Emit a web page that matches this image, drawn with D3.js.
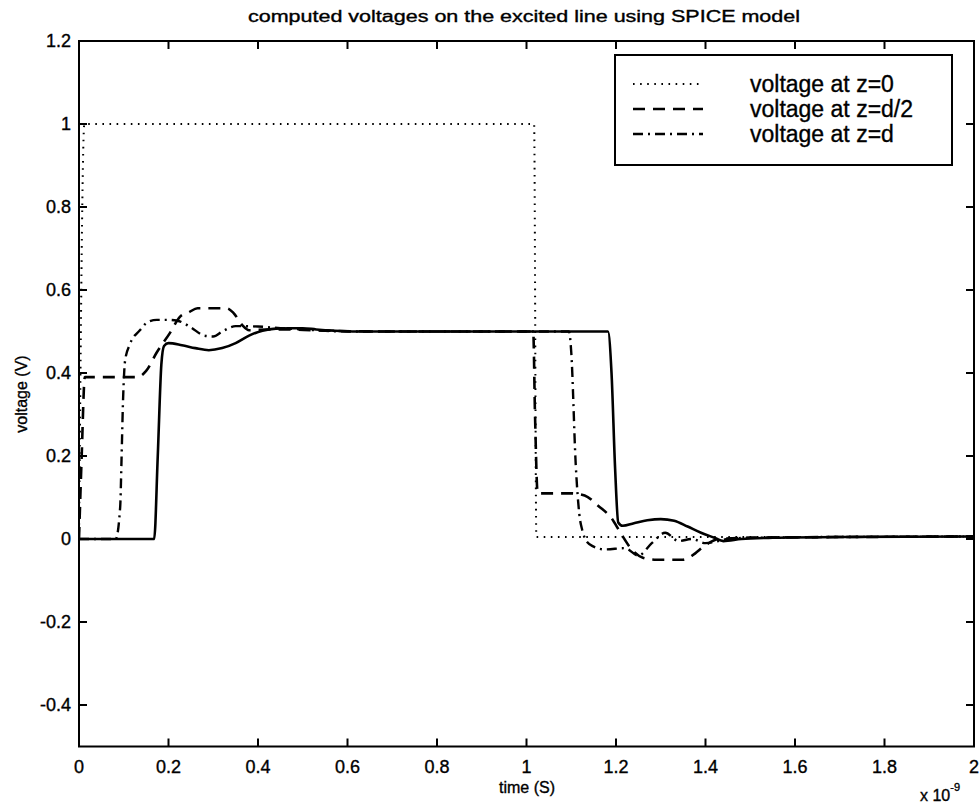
<!DOCTYPE html>
<html>
<head>
<meta charset="utf-8">
<script src="https://cdn.jsdelivr.net/npm/d3@7"></script>
<style>
  body { margin: 0; background: #fff; }
  text { font-family: "Liberation Sans", Arial, sans-serif; fill: #000; stroke: #000; stroke-width: 0.35px; }
</style>
</head>
<body>
<div id="chart"></div>
<script>
// time in units of 1e-9 s, voltage in V
const dottedT = [0, 0.012, 1.017, 1.022, 1.1, 1.3, 1.5, 2.0];
const dottedV = [0, 1, 1, 0.005, 0.005, 0.005, 0.005, 0.006];

const dashedT = [0, 0.006, 0.013, 0.13, 0.15, 0.174, 0.203, 0.226, 0.245, 0.265, 0.33, 0.345, 0.365, 0.38, 0.42, 0.47, 0.55, 0.7, 1.0, 1.015, 1.019, 1.025, 1.1, 1.13, 1.16, 1.19, 1.21, 1.235, 1.26, 1.29, 1.35, 1.37, 1.4, 1.43, 1.5, 2.0];
const dashedV = [0, 0.2, 0.39, 0.39, 0.405, 0.45, 0.496, 0.536, 0.546, 0.556, 0.556, 0.545, 0.515, 0.503, 0.505, 0.505, 0.502, 0.5, 0.5, 0.5, 0.3, 0.11, 0.11, 0.105, 0.08, 0.05, 0.015, -0.025, -0.045, -0.05, -0.05, -0.04, -0.015, 0, 0.003, 0.006];

const dashDotT = [0, 0.082, 0.092, 0.095, 0.098, 0.103, 0.114, 0.136, 0.154, 0.174, 0.2, 0.22, 0.25, 0.28, 0.3, 0.32, 0.35, 0.4, 0.45, 0.5, 0.6, 1.0, 1.095, 1.1, 1.11, 1.118, 1.125, 1.14, 1.175, 1.22, 1.25, 1.28, 1.31, 1.34, 1.37, 1.4, 1.45, 1.5, 2.0];
const dashDotV = [0, 0, 0.077, 0.19, 0.32, 0.43, 0.47, 0.503, 0.523, 0.528, 0.528, 0.526, 0.51, 0.49, 0.488, 0.5, 0.513, 0.512, 0.508, 0.505, 0.5, 0.5, 0.5, 0.45, 0.18, 0.06, 0.02, -0.012, -0.025, -0.022, -0.04, -0.01, 0.015, -0.005, 0, -0.01, 0, 0.003, 0.006];

const solidT = [0, 0.168, 0.176, 0.184, 0.19, 0.2, 0.23, 0.26, 0.29, 0.32, 0.35, 0.38, 0.41, 0.44, 0.47, 0.5, 0.53, 0.57, 0.62, 0.7, 0.9, 1.1, 1.182, 1.19, 1.198, 1.205, 1.215, 1.24, 1.27, 1.3, 1.33, 1.36, 1.39, 1.42, 1.44, 1.48, 1.55, 1.7, 2.0];
const solidV = [0, 0, 0.2, 0.42, 0.465, 0.472, 0.467, 0.46, 0.455, 0.46, 0.472, 0.49, 0.502, 0.507, 0.508, 0.508, 0.505, 0.502, 0.5, 0.5, 0.5, 0.5, 0.5, 0.4, 0.17, 0.04, 0.032, 0.038, 0.045, 0.048, 0.044, 0.03, 0.015, 0.003, -0.005, 0, 0.003, 0.005, 0.006];

const xTicks = [0, 0.2, 0.4, 0.6, 0.8, 1, 1.2, 1.4, 1.6, 1.8, 2];
const xTickLabels = ["0", "0.2", "0.4", "0.6", "0.8", "1", "1.2", "1.4", "1.6", "1.8", "2"];
const yTicks = [-0.4, -0.2, 0, 0.2, 0.4, 0.6, 0.8, 1, 1.2];
const yTickLabels = ["-0.4", "-0.2", "0", "0.2", "0.4", "0.6", "0.8", "1", "1.2"];

const legendLabels = ["voltage at z=0", "voltage at z=d/2", "voltage at z=d"];

const width = 979, height = 808;
const pLeft = 79, pRight = 974, pTop = 41, pBottom = 746.5;

const svg = d3.select("#chart").append("svg")
  .attr("width", width).attr("height", height);

const x = d3.scaleLinear().domain([0, 2]).range([pLeft, pRight]);
const y = d3.scaleLinear().domain([-0.5, 1.2]).range([pBottom, pTop]);

svg.append("clipPath").attr("id", "clip")
  .append("rect").attr("x", pLeft).attr("y", pTop)
  .attr("width", pRight - pLeft).attr("height", pBottom - pTop);

// styles for each trace
const styles = {
  dotted:  { w: 2,   dash: "1.6,5.5" },
  dashed:  { w: 2.6, dash: "12,8" },
  dashdot: { w: 2.4, dash: "10,5,2,5" },
  solid:   { w: 2.6, dash: null }
};

const series = [
  { key: "dotted",  t: dottedT,  v: dottedV },
  { key: "dashed",  t: dashedT,  v: dashedV },
  { key: "dashdot", t: dashDotT, v: dashDotV },
  { key: "solid",   t: solidT,   v: solidV }
];

const line = d3.line()
  .x(d => x(d[0]))
  .y(d => y(d[1]))
  .curve(d3.curveMonotoneX);

const plot = svg.append("g").attr("clip-path", "url(#clip)");
series.forEach(s => {
  const pts = s.t.map((t, i) => [t, s.v[i]]);
  plot.append("path")
    .datum(pts)
    .attr("d", line)
    .attr("fill", "none")
    .attr("stroke", "#000")
    .attr("stroke-width", styles[s.key].w)
    .attr("stroke-dasharray", styles[s.key].dash)
    .attr("stroke-linejoin", "round");
});

// frame
svg.append("rect")
  .attr("x", pLeft).attr("y", pTop)
  .attr("width", pRight - pLeft).attr("height", pBottom - pTop)
  .attr("fill", "none").attr("stroke", "#000").attr("stroke-width", 2);

// ticks (inward on all four sides, matlab style)
const tk = 8;
const ticks = svg.append("g").attr("stroke", "#000").attr("stroke-width", 2);
xTicks.forEach(t => {
  ticks.append("line").attr("x1", x(t)).attr("x2", x(t)).attr("y1", pBottom).attr("y2", pBottom - tk);
  ticks.append("line").attr("x1", x(t)).attr("x2", x(t)).attr("y1", pTop).attr("y2", pTop + tk);
});
yTicks.forEach(v => {
  ticks.append("line").attr("x1", pLeft).attr("x2", pLeft + tk).attr("y1", y(v)).attr("y2", y(v));
  ticks.append("line").attr("x1", pRight).attr("x2", pRight - tk).attr("y1", y(v)).attr("y2", y(v));
});

svg.append("g").selectAll("text")
  .data(xTicks)
  .join("text")
  .attr("x", d => x(d))
  .attr("y", 773)
  .attr("text-anchor", "middle")
  .attr("font-size", "18px")
  .text((d, i) => xTickLabels[i]);

svg.append("g").selectAll("text")
  .data(yTicks)
  .join("text")
  .attr("x", 71)
  .attr("y", d => y(d))
  .attr("dy", "0.36em")
  .attr("text-anchor", "end")
  .attr("font-size", "18px")
  .text((d, i) => yTickLabels[i]);

// exponent
const ex = svg.append("text").attr("x", 920).attr("y", 801).attr("font-size", "16px");
ex.append("tspan").text("x 10");
ex.append("tspan").attr("dy", -10).attr("font-size", "11px").text("-9");

// title and labels
svg.append("text")
  .attr("x", 524).attr("y", 22)
  .attr("text-anchor", "middle")
  .attr("font-size", "16px")
  .attr("textLength", 552).attr("lengthAdjust", "spacingAndGlyphs")
  .text("computed voltages on the excited line using SPICE model");

svg.append("text")
  .attr("x", 527).attr("y", 793)
  .attr("text-anchor", "middle")
  .attr("font-size", "16px")
  .text("time (S)");

svg.append("text")
  .attr("transform", "translate(27,394) rotate(-90)")
  .attr("text-anchor", "middle")
  .attr("font-size", "16px")
  .text("voltage (V)");

// legend
const lg = svg.append("g");
lg.append("rect")
  .attr("x", 615).attr("y", 55).attr("width", 337).attr("height", 110)
  .attr("fill", "#fff").attr("stroke", "#000").attr("stroke-width", 2);
const keys = ["dotted", "dashed", "dashdot"];
legendLabels.forEach((lab, i) => {
  const cy = 84 + i * 25;
  lg.append("line")
    .attr("x1", 633).attr("x2", 703).attr("y1", cy).attr("y2", cy)
    .attr("stroke", "#000")
    .attr("stroke-width", styles[keys[i]].w)
    .attr("stroke-dasharray", styles[keys[i]].dash);
  lg.append("text")
    .attr("x", 750).attr("y", cy + 8)
    .attr("font-size", "23px")
    .text(lab);
});
</script>
</body>
</html>
